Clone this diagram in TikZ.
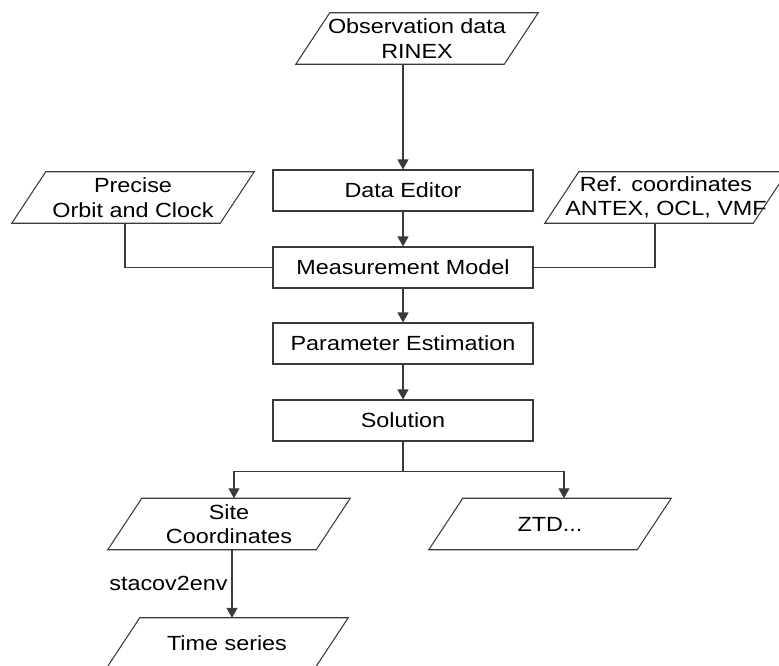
\documentclass[tikz,border=0pt]{standalone}
\usepackage{fontspec}
\setmainfont{Liberation Sans}[FakeStretch=1.14]
\usetikzlibrary{arrows.meta,positioning,calc}
\definecolor{lngray}{HTML}{3A3A3A}

\begin{document}
\begin{tikzpicture}[x=0.03cm,y=-0.03cm,
      font=\fontsize{17.5}{21}\selectfont,
      blk/.style={draw=lngray,line width=0.9pt,minimum width=7.8cm,
                  minimum height=1.23cm,inner sep=1pt},
      para/.style={minimum width=6.24cm,minimum height=1.53cm,
                   inner sep=1pt,align=center},
      ln/.style={draw=lngray,line width=0.9pt},
      ar/.style={ln,-{Triangle[length=3mm,width=3.3mm]}}]
    \useasboundingbox (0,0) rectangle (779,665);
    % inputs
    \node[para] (obs) at (417,38.5) {Observation data\\RINEX};
    \node[para] (prec) at (133,197.5) {Precise\\Orbit and Clock};
    \node[para] (ref) at (666,197.5) {Ref. coordinates\\ANTEX, OCL, VMF};
    % processing chain
    \node[blk] (editor) at (403,190.5) {Data Editor};
    \node[blk] (model) at (403,267.5) {Measurement Model};
    \node[blk] (param) at (403,343.5) {Parameter Estimation};
    \node[blk] (sol) at (403,420.5) {Solution};
    % products
    \node[para] (site) at (229,524) {Site\\Coordinates};
    \node[para] (ztd) at (550,524) {ZTD...};
    \node[para] (ts) at (227,643.5) {Time series};
    % parallelogram outlines
    \foreach \n in {obs,prec,ref,site,ztd,ts}
      \draw[ln] ([shift={(17,0)}]\n.north west) -- ([shift={(17,0)}]\n.north east)
        -- ([shift={(-17,0)}]\n.south east) -- ([shift={(-17,0)}]\n.south west) -- cycle;
    % connectors
    \draw[ar] (obs.south -| editor.north) -- (editor.north);
    \foreach \a/\b in {editor/model,model/param,param/sol}
      \draw[ar] (\a) -- (\b);
    \draw[ln] ([shift={(-8,0)}]prec.south) |- (model.west);
    \draw[ln] ([shift={(-11,0)}]ref.south) |- (model.east);
    \coordinate (split) at ([yshift=-0.9cm]sol.south);
    \draw[ln] (sol) -- (split);
    \draw[ar] (split) -| ([shift={(5,0)}]site.north);
    \draw[ar] (split) -| ([shift={(14,0)}]ztd.north);
    \draw[ar] ([shift={(3,0)}]site.south) -- ([shift={(3,0)}]site.south |- ts.north)
      node[midway,left] {stacov2env};
  \end{tikzpicture}
\end{document}
